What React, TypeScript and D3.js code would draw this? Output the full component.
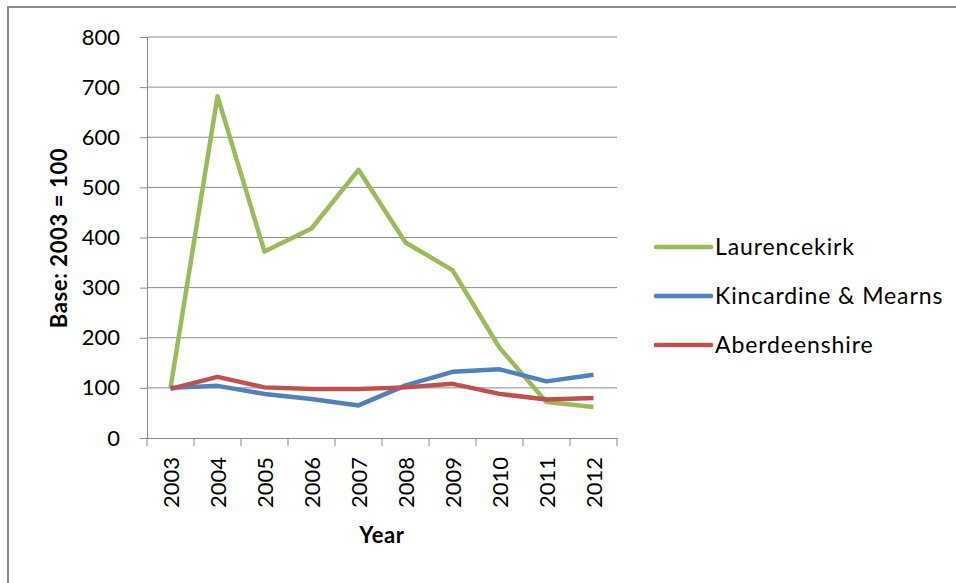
import React, { useEffect, useRef } from "react";
import * as d3 from "d3";

const years = ["2003", "2004", "2005", "2006", "2007", "2008", "2009", "2010", "2011", "2012"];
const yTicks = [0, 100, 200, 300, 400, 500, 600, 700, 800];
const laurencekirk = [100, 682, 372, 418, 535, 390, 335, 180, 72, 62];
const kincardine = [100, 104, 88, 78, 65, 105, 132, 137, 113, 126];
const aberdeenshire = [98, 122, 101, 98, 98, 101, 108, 88, 77, 80];
const seriesNames = ["Laurencekirk", "Kincardine & Mearns", "Aberdeenshire"];
const seriesColors = ["#9bbb59", "#4f81bd", "#c0504d"];

const App = () => {
  const svgRef = useRef<SVGSVGElement>(null);

  useEffect(() => {
    const width = 956,
      height = 583;
    const font = "Lato, 'Open Sans', sans-serif";
    const gridColor = "#8c8c8c";

    const svg = d3.select(svgRef.current).attr("width", width).attr("height", height).html("");

    // outer frame (runs off the right and bottom edges)
    svg.append("rect")
      .attr("x", 8).attr("y", 7)
      .attr("width", width + 20).attr("height", height + 20)
      .attr("fill", "#fff")
      .attr("stroke", "#8c8c8c")
      .attr("stroke-width", 2);

    const left = 147, right = 617, top = 37, bottom = 438;

    const x = d3.scaleBand().domain(years).range([left, right]);
    const y = d3.scaleLinear().domain([0, 800]).range([bottom, top]);

    // gridlines
    svg.append("g")
      .selectAll("line")
      .data(yTicks.filter((t) => t > 0))
      .enter()
      .append("line")
      .attr("x1", left).attr("x2", right)
      .attr("y1", (d) => y(d)).attr("y2", (d) => y(d))
      .attr("stroke", gridColor).attr("stroke-width", 1);

    // y axis
    const yAxis = svg.append("g")
      .attr("transform", `translate(${left},0)`)
      .call(d3.axisLeft(y).tickValues(yTicks).tickSize(7).tickPadding(20));
    yAxis.select(".domain").attr("stroke", gridColor);
    yAxis.selectAll(".tick line").attr("stroke", gridColor);
    yAxis.selectAll("text")
      .attr("font-family", font).attr("font-size", 22).attr("fill", "#000");

    // x axis
    const xAxis = svg.append("g")
      .attr("transform", `translate(0,${bottom})`)
      .call(d3.axisBottom(x).tickSize(0).tickFormat(() => ""));
    xAxis.select(".domain").attr("stroke", gridColor);
    xAxis.selectAll(".tick").remove();
    const edges = [...years.map((yr) => x(yr) as number), right];
    xAxis.selectAll("line.edge")
      .data(edges)
      .enter()
      .append("line")
      .attr("class", "edge")
      .attr("x1", (d) => d).attr("x2", (d) => d)
      .attr("y1", 0).attr("y2", 8)
      .attr("stroke", gridColor);

    svg.append("g")
      .selectAll("text")
      .data(years)
      .enter()
      .append("text")
      .attr("transform", (d) => `translate(${(x(d) as number) + x.bandwidth() / 2 + 8},${bottom + 19}) rotate(-90)`)
      .attr("text-anchor", "end")
      .attr("font-family", font)
      .attr("font-size", 22)
      .text((d) => d);

    // axis titles
    svg.append("text")
      .attr("x", 382).attr("y", 543)
      .attr("text-anchor", "middle")
      .attr("font-family", font).attr("font-size", 22).attr("font-weight", "bold")
      .attr("letter-spacing", 0.6)
      .text("Year");
    svg.append("text")
      .attr("transform", `translate(67,238) rotate(-90)`)
      .attr("text-anchor", "middle")
      .attr("font-family", font).attr("font-size", 22).attr("font-weight", "bold")
      .attr("letter-spacing", 0.6)
      .text("Base: 2003 = 100");

    // lines
    const data = [laurencekirk, kincardine, aberdeenshire];
    const line = d3.line<number>()
      .x((_, i) => (x(years[i]) as number) + x.bandwidth() / 2)
      .y((d) => y(d));

    svg.append("g")
      .selectAll("path")
      .data(data)
      .enter()
      .append("path")
      .attr("d", (d) => line(d))
      .attr("fill", "none")
      .attr("stroke", (_, i) => seriesColors[i])
      .attr("stroke-width", 4.5)
      .attr("stroke-linejoin", "round");

    // legend
    const legend = svg.append("g")
      .selectAll("g")
      .data(seriesNames)
      .enter()
      .append("g")
      .attr("transform", (_, i) => `translate(656,${247 + i * 49})`);
    legend.append("line")
      .attr("x1", 0).attr("x2", 55)
      .attr("stroke", (_, i) => seriesColors[i])
      .attr("stroke-width", 4.5)
      .attr("stroke-linecap", "round");
    legend.append("text")
      .attr("x", 59).attr("y", 8)
      .attr("font-family", font).attr("font-size", 23)
      .attr("letter-spacing", 0.9)
      .text((d) => d);
  }, []);

  return <svg ref={svgRef} style={{ position: "absolute", left: 0, top: 0 }}></svg>;
};

export default App;
